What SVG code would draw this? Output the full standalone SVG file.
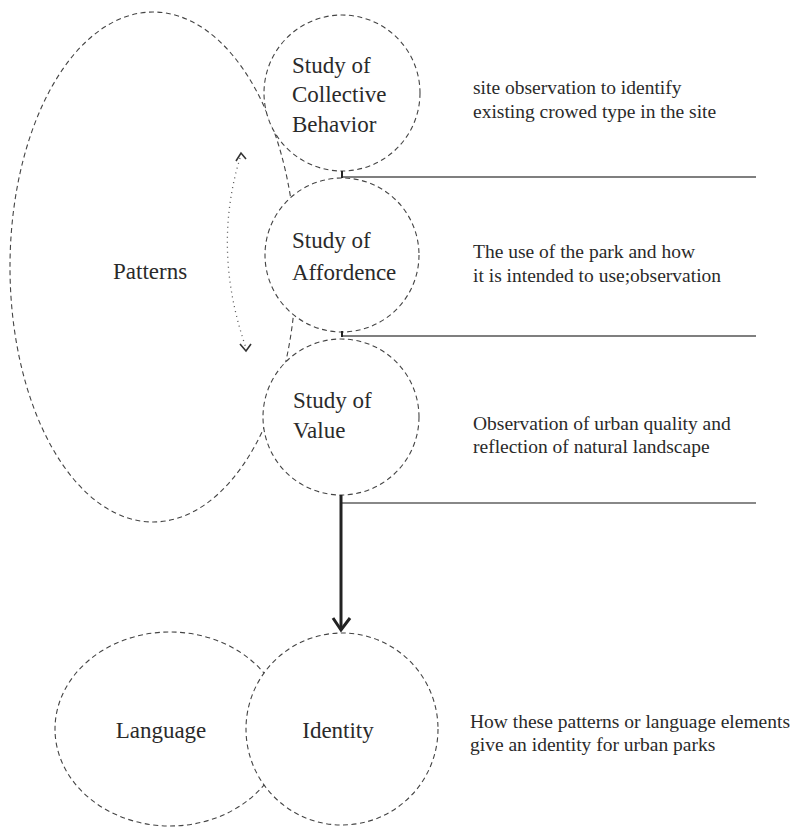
<svg xmlns="http://www.w3.org/2000/svg" width="805" height="827" viewBox="0 0 805 827">
<style>
.dash{fill:#fff;stroke:#444;stroke-width:1.1;stroke-dasharray:5 3.5}
.lbl{font-family:"Liberation Serif","Times New Roman",serif;font-size:23px;fill:#2a2a2a}
.desc{font-family:"Liberation Serif","Times New Roman",serif;font-size:19.5px;fill:#2a2a2a}
.rule{stroke:#555;stroke-width:1.3;fill:none}
</style>
<rect width="805" height="827" fill="#fff"/>
<g id="patterns">
<ellipse class="dash" cx="153" cy="267" rx="143" ry="255"/>
<text class="lbl" x="113" y="279">Patterns</text>
</g>
<g id="cycle-arrow">
<path d="M240,158 Q212,250 246,348" fill="none" stroke="#555" stroke-width="1.3" stroke-dasharray="1 4"/>
<path d="M236,161 L241,153 L246,159" fill="none" stroke="#333" stroke-width="1.6"/>
<path d="M240,344 L246,351 L251,344" fill="none" stroke="#333" stroke-width="1.6"/>
</g>
<g id="collective">
<circle class="dash" cx="342" cy="93" r="78"/>
<text class="lbl" x="292" y="73">Study of</text>
<text class="lbl" x="292" y="102">Collective</text>
<text class="lbl" x="292" y="132">Behavior</text>
</g>
<g id="affordence">
<circle class="dash" cx="342" cy="255" r="77"/>
<text class="lbl" x="292" y="248">Study of</text>
<text class="lbl" x="292" y="280">Affordence</text>
</g>
<g id="value">
<circle class="dash" cx="341" cy="417" r="78"/>
<text class="lbl" x="293" y="408">Study of</text>
<text class="lbl" x="293" y="438">Value</text>
</g>
<g id="language">
<ellipse class="dash" cx="170" cy="729" rx="115" ry="97"/>
<text class="lbl" x="161" y="738" text-anchor="middle">Language</text>
</g>
<g id="identity">
<circle class="dash" cx="342" cy="729" r="96"/>
<text class="lbl" x="338" y="738" text-anchor="middle">Identity</text>
</g>
<g id="connectors">
<line class="rule" x1="342" y1="177" x2="756" y2="177"/>
<line x1="342" y1="171" x2="342" y2="178" stroke="#222" stroke-width="2"/>
<line class="rule" x1="342" y1="336" x2="756" y2="336"/>
<line x1="342" y1="331" x2="342" y2="337" stroke="#222" stroke-width="2"/>
<line x1="342" y1="503" x2="756" y2="503" stroke="#888" stroke-width="1.8"/>
<line x1="341" y1="495" x2="341" y2="630" stroke="#222" stroke-width="3"/>
<path d="M333,618 L341,630 L350,618" fill="none" stroke="#222" stroke-width="3"/>
</g>
<g id="descriptions">
<text class="desc" x="473" y="94">site observation to identify</text>
<text class="desc" x="473" y="118">existing crowed type in the site</text>
<text class="desc" x="473" y="258">The use of the park and how</text>
<text class="desc" x="473" y="282">it is intended to use;observation</text>
<text class="desc" x="473" y="430">Observation of  urban quality and</text>
<text class="desc" x="473" y="453">reflection of natural landscape</text>
<text class="desc" x="470" y="728">How these patterns or language elements</text>
<text class="desc" x="470" y="751">give an identity for urban parks</text>
</g>
</svg>
